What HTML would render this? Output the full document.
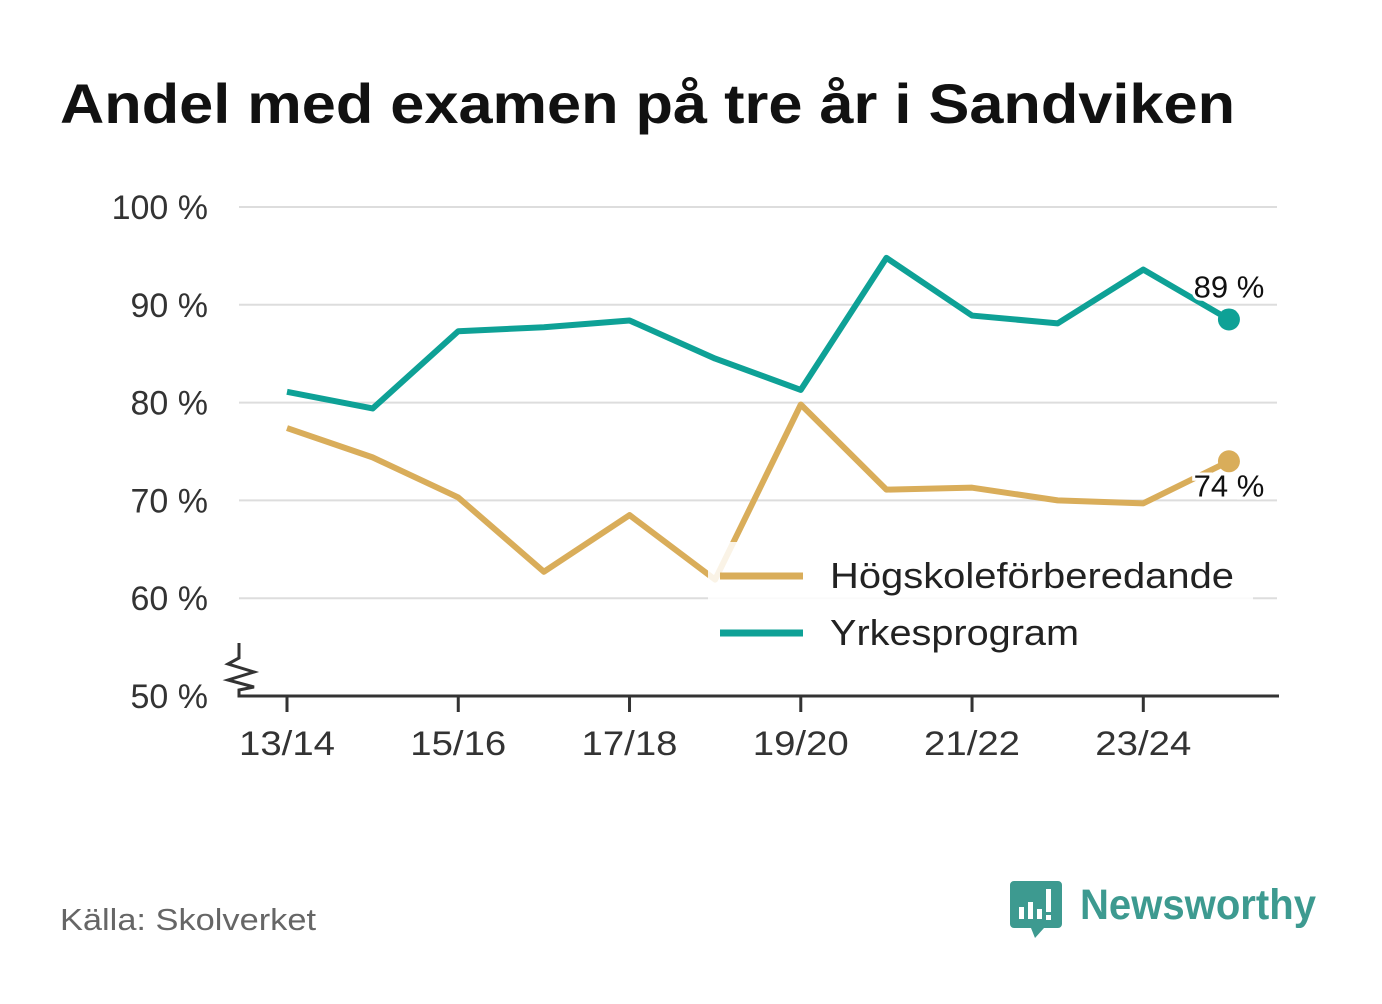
<!DOCTYPE html>
<html><head><meta charset="utf-8"><style>
body{margin:0;background:#fff;width:1382px;height:999px;overflow:hidden;font-family:"Liberation Sans","DejaVu Sans",sans-serif}
</style></head><body>
<svg width="1382" height="999" xmlns="http://www.w3.org/2000/svg">
<text x="60" y="123" font-size="56" font-weight="bold" fill="#111" textLength="1175" lengthAdjust="spacingAndGlyphs">Andel med examen på tre år i Sandviken</text>
<g id="grid"></g>
<g id="lines"></g>
<text x="60" y="930" font-size="31" fill="#666" textLength="256" lengthAdjust="spacingAndGlyphs">Källa: Skolverket</text>
<g>
<path d="M1014 881 h44 a4 4 0 0 1 4 4 v39 a4 4 0 0 1 -4 4 h-14 l-9 10 l-4 -10 h-17 a4 4 0 0 1 -4 -4 v-39 a4 4 0 0 1 4 -4z" fill="#3d9a90"/>
<rect x="1019" y="907" width="5" height="12" fill="#fff"/><rect x="1028" y="902" width="5" height="17" fill="#fff"/><rect x="1037" y="909" width="5" height="10" fill="#fff"/><rect x="1046" y="889" width="5" height="23" fill="#fff"/><rect x="1046" y="915" width="5" height="5" fill="#fff"/>
<text x="1080" y="919" font-size="43" font-weight="bold" fill="#3d9a90" textLength="236" lengthAdjust="spacingAndGlyphs">Newsworthy</text>
</g>
</svg>
<script>
const categories=["13/14","14/15","15/16","16/17","17/18","18/19","19/20","20/21","21/22","22/23","23/24","24/25"];
const yrkes=[81.1,79.4,87.3,87.7,88.4,84.5,81.3,94.8,88.9,88.1,93.6,88.5];
const hogsk=[77.4,74.4,70.3,62.7,68.5,61.9,79.8,71.1,71.3,70.0,69.7,74.0];
const yTicks=[50,60,70,80,90,100];
const xTickLabels=["13/14","15/16","17/18","19/20","21/22","23/24"];
const NS="http://www.w3.org/2000/svg";
const x=i=>287+i*85.63;
const y=v=>696-(v-50)*9.78;
function mk(tag,attrs,parent,text){const e=document.createElementNS(NS,tag);for(const k in attrs)e.setAttribute(k,attrs[k]);if(text!==undefined)e.textContent=text;parent.appendChild(e);return e;}
const grid=document.getElementById('grid');const lines=document.getElementById('lines');
yTicks.forEach(t=>{
 if(t>50){const g=mk('line',{x1:239,x2:1277,y1:y(t),y2:y(t),stroke:'#ddd','stroke-width':2},grid);
 
 }
 const l=mk('text',{x:208,y:y(t)+12,'font-size':34,fill:'#333','text-anchor':'end'},grid,t+' %');
 
 
});
const ax=mk('path',{d:'M239 643 L239 658 L228 664 L254 672 L228 680 L254 687 L239 690 L239 696 L1279 696',fill:'none',stroke:'#333','stroke-width':3},grid);


categories.forEach((c,i)=>{const idx=xTickLabels.indexOf(c);if(idx<0)return;
 mk('line',{x1:x(i),x2:x(i),y1:696,y2:712,stroke:'#333','stroke-width':3},grid);
 const t=mk('text',{x:x(i),y:755,'font-size':34,fill:'#333','text-anchor':'middle',textLength:96,lengthAdjust:'spacingAndGlyphs'},grid,c);
 
 
});
function series(vals,color,name){
 const p=mk('polyline',{points:vals.map((v,i)=>x(i)+','+y(v)).join(' '),fill:'none',stroke:color,'stroke-width':6,'stroke-linejoin':'round'},lines);
 
 
 const n=vals.length-1;
 const c=mk('circle',{cx:x(n),cy:y(vals[n]),r:11,fill:color},lines);
 
 
}
series(hogsk,'#d9ad5a','hogskole');
series(yrkes,'#0ea196','yrkes');
const lb=mk('rect',{x:708,y:542,width:545,height:115,fill:'#fff','fill-opacity':0.85},lines);


[['Högskoleförberedande','#d9ad5a',576,404],['Yrkesprogram','#0ea196',633,249]].forEach(([n,c,yy,w])=>{
 const g=mk('g',{},lines);
 
 
 mk('line',{x1:720,x2:803,y1:yy,y2:yy,stroke:c,'stroke-width':7},g);
 mk('text',{x:830,y:yy+12,'font-size':36,fill:'#222',textLength:w,lengthAdjust:'spacingAndGlyphs'},g,n);
});
const n=yrkes.length-1;
[[yrkes[n],y(yrkes[n])-22],[hogsk[n],y(hogsk[n])+35]].forEach(([v,yy])=>{
 const t=mk('text',{x:x(n),y:yy,'font-size':31,fill:'#111','text-anchor':'middle',stroke:'#fff','stroke-width':6,'paint-order':'stroke'},lines,Math.round(v)+' %');
 
 
});
</script>
</body></html>
